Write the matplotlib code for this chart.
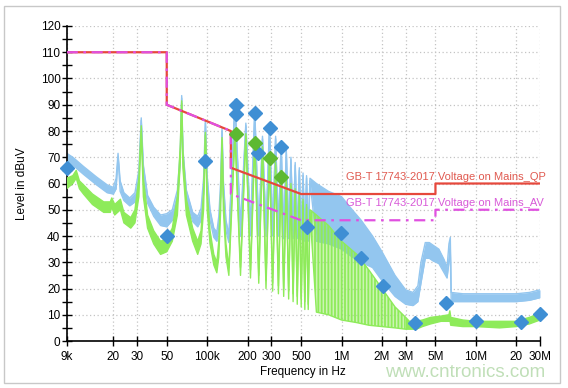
import numpy as np
import matplotlib
matplotlib.use("Agg")
import matplotlib.pyplot as plt
from matplotlib.patches import Rectangle
from matplotlib.ticker import FixedLocator, NullLocator

plt.rcParams['font.family'] = ['Liberation Sans', 'DejaVu Sans']
plt.rcParams['hatch.linewidth'] = 1.3

# peak trace (blue) - frequency in kHz, lower / upper edge of the noisy band in dBuV
blue_f_khz = [9, 10, 12, 15, 18, 20, 21, 21.7, 22.5, 24, 26.5, 29, 31, 32.3, 33.5, 36, 40, 45, 50,
              55, 60, 63, 64.6, 66, 70, 78, 85, 90, 94, 97, 100, 105, 112, 118, 122, 126, 129, 132,
              138, 145, 161, 177, 194, 210, 226, 242, 258, 274, 291, 307, 323, 339, 355, 371, 388,
              404, 420, 436, 452, 468, 485, 501, 517, 533, 549, 565, 582, 650, 800, 1000, 1200,
              1400, 1700, 2000, 2500, 3000, 3400, 3700, 3900, 4200, 4500, 4800, 5300, 5800, 6100,
              6300, 6450, 6550, 8000, 10000, 15000, 20000, 25000, 30000]
blue_lo = [67.5, 67, 63.5, 59.5, 56.5, 56, 58, 70, 57, 53.5, 51.5, 53, 60, 84, 62, 52.5, 47.5, 44, 43.5,
           46, 53, 68, 92.5, 68, 53, 45.5, 43.5, 46, 56, 83, 57, 46, 39.5, 38, 43, 55, 80, 56,
           42, 37.5, 90.5, 40, 82, 40, 87, 40, 77, 40, 82, 40, 77, 40, 75, 39, 72,
           39, 69, 39, 67, 39, 65, 39, 63, 38, 62, 38, 61, 38, 37, 35, 32,
           30, 28, 23, 17, 14, 13.5, 15, 22, 31.5, 31.5, 30.5, 29.5, 26, 24,
           30, 33, 15, 15, 15, 15, 15, 15.5, 16.5]
blue_hi = [71.5, 70, 66.5, 62.5, 59.5, 58.5, 62, 71.5, 61, 56.5, 54.5, 56.5, 65, 85, 67, 55.5, 51, 48, 48.5,
           50, 57.5, 72, 93.5, 73, 57.5, 49, 47.5, 50.5, 62, 84, 63, 50, 43, 41.5, 47.5, 61, 81, 61,
           46, 40.5, 92, 44, 83, 44, 88, 43, 78, 43, 83, 43, 78, 43, 76, 42, 73,
           42, 70, 42, 68, 42, 66, 42, 64, 41, 63, 41, 62, 60, 57, 55, 50,
           46, 40, 34, 25, 19.5, 18.5, 21, 30, 37.5, 37.5, 36.5, 35, 31, 28,
           37, 39.5, 18.5, 18, 18, 18, 18, 18.5, 19.5]

# average trace (green)
green_f_khz = [9, 10, 10.6, 11.2, 12, 14, 17, 19, 19.5, 20.5, 22.6, 24, 27, 29, 31, 32.3, 33.5, 36,
               40, 45, 50, 55, 60, 63, 64.6, 66, 70, 78, 85, 90, 94, 97, 100, 105, 112, 118, 122,
               126, 129, 132, 138, 145, 161, 177, 194, 210, 226, 242, 258, 274, 291, 307, 323,
               339, 355, 371, 388, 404, 420, 436, 452, 468, 485, 501, 517, 533, 549, 565, 582,
               650, 800, 1000, 1300, 1600, 2000, 2500, 3000, 3200, 3600, 4000, 4600, 5500, 6300,
               6400, 6500, 8000, 10000, 15000, 20000, 25000, 30000]
green_lo = [58, 60, 62, 58, 56, 52, 49, 49, 51, 48, 50, 45, 43, 45, 55, 80, 55, 43,
            37, 33, 34, 38, 48, 68, 90.5, 66, 48, 38, 33, 37, 50, 78.5, 50, 37, 29, 26, 32,
            50, 76.5, 50, 32, 25, 79, 25, 78, 24, 76, 22, 73, 20, 70, 19, 67,
            18, 64, 17, 61, 16, 59, 15, 57, 14, 55, 13, 53, 12, 51, 12, 49,
            11, 10, 8, 7, 6, 5.5, 5, 4.5, 4.5, 4.5, 5.5, 6.5, 7.5, 7.5,
            8, 6, 5.5, 5.5, 5, 5.5, 6.5, 8]
green_hi = [62, 63, 65, 61, 59.5, 56, 53, 53, 54.5, 52, 54, 49, 47, 50, 62, 82, 62, 48,
            42, 38, 39, 43, 55, 74, 91.5, 72, 54, 43, 38, 42, 57, 79.5, 57, 42, 33, 30, 38,
            57, 77.5, 56, 37, 28, 80, 28, 79, 27, 77, 25, 74, 23, 71, 22, 68,
            21, 65, 20, 62, 19, 60, 18, 58, 17, 56, 16, 54, 15, 52, 14, 50,
            48, 44, 38, 33, 27, 20, 13, 9, 7.5, 7.5, 8, 9, 9.5, 10,
            11.5, 9, 8, 7.5, 7.5, 7.5, 9, 10.5]

# limit lines GB-T 17743-2017
lim_f = [9e3, 50e3, 50e3, 150e3, 150e3, 500e3, 5e6, 5e6, 30e6]
qp_limit = [110, 110, 90, 80, 66, 56, 56, 60, 60]
av_limit = [110, 110, 90, 80, 56, 46, 46, 50, 50]

# final measurement points
qp_pts_f = [9e3, 50e3, 97e3, 164e3, 164e3, 225e3, 238e3, 292e3, 353e3, 551e3, 986e3,
            1.39e6, 2.02e6, 3.5e6, 5.95e6, 10e6, 21.5e6, 30e6]
qp_pts_v = [65.8, 39.9, 68.4, 89.9, 86.3, 86.7, 71.5, 81, 74, 43.4, 41, 31.6, 21, 6.9,
            14.4, 7.6, 7.2, 10.2]
av_pts_f = [164e3, 225e3, 292e3, 353e3]
av_pts_v = [78.7, 75.3, 69.6, 62.4]

xtick_vals = [9e3, 20e3, 30e3, 50e3, 100e3, 200e3, 300e3, 500e3, 1e6, 2e6, 3e6, 5e6, 10e6, 20e6, 30e6]
xtick_labels = ['9k', '20', '30', '50', '100k', '200', '300', '500', '1M', '2M', '3M', '5M',
                '10M', '20', '30M']

fig = plt.figure(figsize=(5.68, 3.88), dpi=100)
fig.patches.append(Rectangle((0.007, 0.013), 0.979, 0.972, transform=fig.transFigure,
                             fill=False, edgecolor='#c8c8c8', lw=1))
ax = fig.add_axes([0.1174, 0.1211, 0.8333, 0.8119])

bf = np.array(blue_f_khz) * 1e3
gf = np.array(green_f_khz) * 1e3
glo = np.array(green_lo)
ghi = np.array(green_hi)
blue_c = '#93c6ef'
green_c = '#8eeb5a'
ax.fill_between(bf, blue_lo, blue_hi, color=blue_c, lw=0, zorder=2)
ax.plot(bf, blue_hi, color=blue_c, lw=1.0, zorder=2)
ax.plot(bf, blue_lo, color=blue_c, lw=1.0, zorder=2)

# green: resolved part solid, dense comb (above ~580 kHz up to 3 MHz) striped
solid = (gf <= 582e3) | (gf >= 3e6)
comb = (gf >= 582e3) & (gf <= 3e6)
ax.fill_between(gf, glo, ghi, where=solid, color=green_c, lw=0, zorder=3)
ax.fill_between(gf[comb], glo[comb], ghi[comb], facecolor=green_c, alpha=0.45, lw=0, zorder=3)
ax.fill_between(gf[comb], glo[comb], ghi[comb], facecolor='none', edgecolor=green_c,
                hatch='|||||', lw=0, zorder=3)
ax.plot(gf, ghi, color=green_c, lw=1.0, zorder=3)
ax.plot(gf, glo, color=green_c, lw=1.0, zorder=3)

ax.plot(lim_f, qp_limit, color='#e6483c', lw=1.6, zorder=4)
ax.plot(lim_f, av_limit, color='#e050e0', lw=1.6, linestyle=(0, (5, 2.5, 1.2, 2.5)), zorder=4)

ax.plot(qp_pts_f, qp_pts_v, 'D', color='#3f8fd4', ms=7, mec='#3f8fd4', zorder=6, clip_on=False)
ax.plot(av_pts_f, av_pts_v, 'D', color='#5db932', ms=7, mec='#5db932', zorder=6, clip_on=False)

ax.text(0.59, 0.521, 'GB-T 17743-2017 Voltage on Mains_QP', transform=ax.transAxes,
        color='#e05a50', fontsize=8, va='center', zorder=5)
ax.text(0.59, 0.438, 'GB-T 17743-2017 Voltage on Mains_AV', transform=ax.transAxes,
        color='#d85ad8', fontsize=8, va='center', zorder=5)

ax.set_xscale('log')
ax.set_xlim(9e3, 30e6)
ax.set_ylim(0, 120)
ax.xaxis.set_major_locator(FixedLocator(xtick_vals))
ax.set_xticklabels(xtick_labels)
ax.xaxis.set_minor_locator(NullLocator())
ax.set_yticks(range(0, 121, 10))
ax.yaxis.set_minor_locator(FixedLocator(range(5, 120, 10)))
ax.tick_params(axis='both', which='both', direction='inout', length=7, width=1,
               labelsize=8.5, colors='black')
ax.tick_params(axis='y', pad=1)
ax.tick_params(axis='x', pad=4)
ax.grid(True, which='major', color='#c4c4c4', linestyle=(0, (1, 2)), lw=0.9)
for s in ['top', 'right']:
    ax.spines[s].set_visible(False)
for s in ['left', 'bottom']:
    ax.spines[s].set_linewidth(1.2)
ax.set_xlabel('Frequency in Hz', fontsize=8.5, labelpad=2)
ax.set_ylabel('Level in dBuV', fontsize=8.5, labelpad=9)

fig.text(0.819, 0.039, 'www.cntronics.com', color='#c0dfb8', fontsize=13.5, ha='center', va='center')

fig.savefig('out.png', dpi=100)
